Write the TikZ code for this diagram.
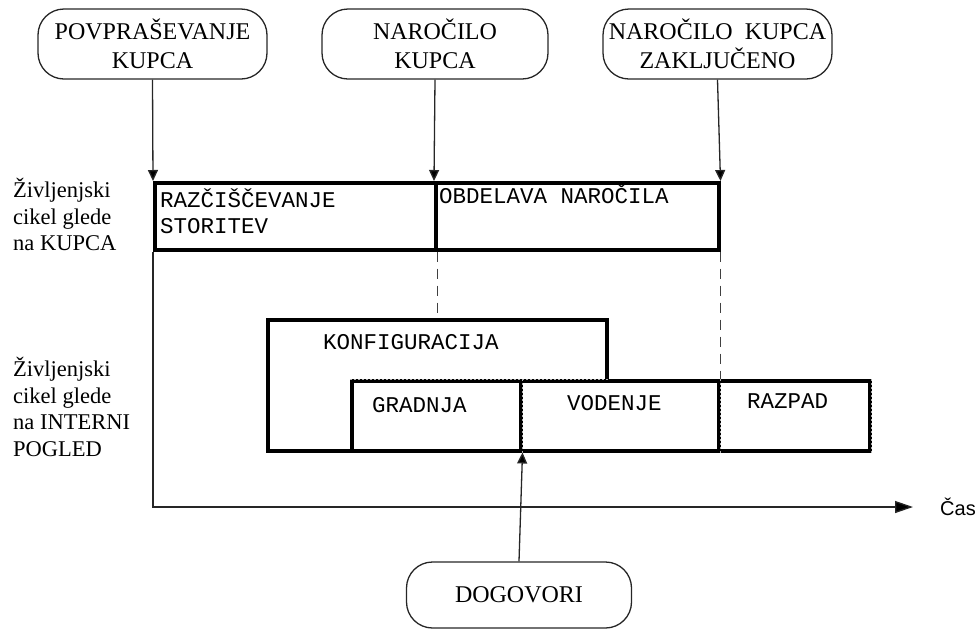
\documentclass[tikz,border=0pt]{standalone}
\usepackage{fontspec}
\setmainfont{Liberation Serif}
\newfontfamily\boxfont{Liberation Mono}
\newfontfamily\casfont{Liberation Sans}
\usetikzlibrary{arrows.meta}

\tikzset{
  event/.style={draw=black!85, line width=1.3pt, rounded corners=26pt,
    align=center, inner sep=0pt, font=\fontsize{24}{28.5}\selectfont},
  phase/.style={draw=black, line width=3.5pt, fill=white, inner sep=0pt,
    anchor=north west},
  phasetext/.style={anchor=base west, inner sep=0pt,
    font=\boxfont\fontsize{22.5}{25}\selectfont},
  sidelabel/.style={anchor=north west, inner sep=0pt, align=left,
    font=\fontsize{22.5}{26.5}\selectfont},
  link/.style={draw=black!85, line width=1.3pt},
  linkarrow/.style={link, -{Triangle[length=11pt,width=10pt,fill=black]}},
  guide/.style={draw=black!75, line width=1.3pt, dash pattern=on 10pt off 7pt},
  seam/.style={draw=black!30, line width=1pt, dash pattern=on 2pt off 2pt},
}

\begin{document}
\begin{tikzpicture}[x=1pt, y=-1pt]
  \useasboundingbox (0,0) rectangle (978,630);

  % events that start and close the customer's life cycle
  \node[event, minimum width=229pt, minimum height=70pt] (inquiry) at (152.5,44)
    {POVPRAŠEVANJE\\KUPCA};
  \node[event, minimum width=226pt, minimum height=70pt] (order) at (435,44)
    {NAROČILO\\KUPCA};
  \node[event, minimum width=229pt, minimum height=70pt] (closed) at (717.5,44)
    {NAROČILO\ \ KUPCA\\ZAKLJUČENO};

  % customer view
  \node[phase, minimum width=281pt, minimum height=67pt] (clarify) at (153,181) {};
  \node[phase, minimum width=283pt, minimum height=67pt] (process) at (434,181) {};
  \node[phasetext] (clarifyA) at (160,207) {RAZČIŠČEVANJE};
  \node[phasetext] (clarifyB) at (160,233) {STORITEV};
  \node[phasetext] (processA) at (439,203) {OBDELAVA NAROČILA};

  % internal view
  \node[phase, minimum width=339pt, minimum height=131pt] (config) at (266,318) {};
  \node[phasetext] (configT) at (323,349) {KONFIGURACIJA};
  \node[phase, minimum width=169pt, minimum height=70pt] (build) at (350,379) {};
  \node[phase, minimum width=198pt, minimum height=70pt] (run) at (519,379) {};
  \node[phase, minimum width=151pt, minimum height=70pt] (decay) at (717,379) {};
  \draw[seam] (build.north west) -- (config.north east |- build.north);
  \draw[seam] (build.north east) -- (build.south east);
  \draw[seam] (run.north east) -- (run.south east);
  \draw[seam] (decay.north east) -- (decay.south east);
  \node[phasetext] (buildT) at (372,412) {GRADNJA};
  \node[phasetext] (runT) at (567,410) {VODENJE};
  \node[phasetext] (decayT) at (747,408) {RAZPAD};

  % side labels
  \node[sidelabel] (viewCustomer) at (13,178) {Življenjski\\cikel glede\\na KUPCA};
  \node[sidelabel] (viewInternal) at (13,357) {Življenjski\\cikel glede\\na INTERNI\\POGLED};

  % event arrows
  \draw[linkarrow] (inquiry.south) -- (clarify.north west);
  \draw[linkarrow] (order.south) -- (process.north west);
  \draw[linkarrow] (closed.south) -- (process.north east);

  % time axis
  \coordinate (axisStart) at (153,507);
  \coordinate (axisEnd) at (913,507);
  \draw[link, -{Triangle[length=18pt,width=12pt,fill=black]}] (clarify.south west) -- (axisStart) -- (axisEnd);
  \node[anchor=west, inner sep=0pt, font=\casfont\fontsize{20}{24}\selectfont] (time) at (940,507) {Čas};

  % correspondence between the views
  \draw[guide] (clarify.south east) -- (clarify.south east |- config.north);
  \draw[guide] (process.south east) -- (process.south east |- run.north);

  % agreements
  \node[event, minimum width=225pt, minimum height=66pt] (deals) at (519,595) {DOGOVORI};
  \draw[linkarrow] (deals.north) -- (build.south east);
\end{tikzpicture}
\end{document}
